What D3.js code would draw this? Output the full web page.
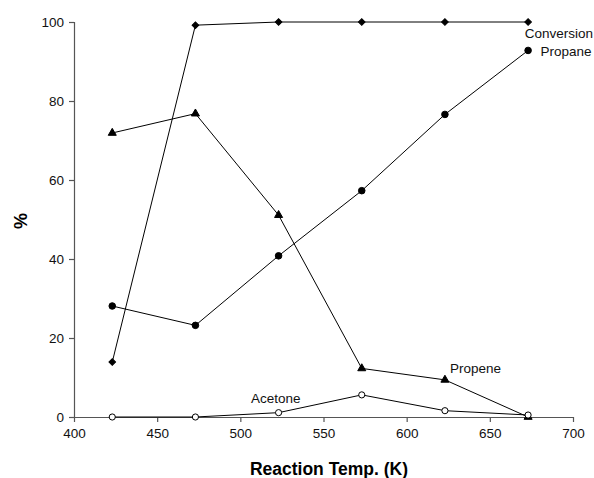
<!DOCTYPE html>
<html><head><meta charset="utf-8">
<script src="https://cdn.jsdelivr.net/npm/d3@7/dist/d3.min.js"></script>
<style>body{margin:0;background:#fff}svg{display:block}text{font-family:"Liberation Sans",Arial,sans-serif}</style>
</head><body><svg id="c" width="594" height="478"></svg>
<script>
const temps = [423, 473, 523, 573, 623, 673];
const conversion = [13.9, 99.2, 100, 100, 100, 100];
const propane = [28.1, 23.2, 40.8, 57.3, 76.6, 92.8];
const propene = [71.9, 76.8, 51.1, 12.3, 9.4, 0];
const acetone = [0, 0, 1.1, 5.6, 1.6, 0.5];
const xTicks = [400, 450, 500, 550, 600, 650, 700];
const yTicks = [0, 20, 40, 60, 80, 100];

const svg = d3.select("#c");
const x = d3.scaleLinear().domain([400, 700]).range([74, 573]);
const y = d3.scaleLinear().domain([0, 100]).range([417, 22]);

const xa = svg.append("g").attr("transform", "translate(0,417)")
  .call(d3.axisBottom(x).tickValues(xTicks).tickSizeOuter(0).tickSize(5).tickPadding(6));
const ya = svg.append("g").attr("transform", "translate(74,0)")
  .call(d3.axisLeft(y).tickValues(yTicks).tickSizeOuter(0).tickSize(5).tickPadding(5));
[xa, ya].forEach(a => {
  a.selectAll("path,line").attr("stroke", "#555").attr("stroke-width", 1.2);
  a.selectAll("text").attr("font-size", 13.5).attr("fill", "#111").attr("font-family", '"Liberation Sans",Arial,sans-serif');
});
xa.select(".domain").attr("d", "M74,0.5H573");

function series(vals, sym, size, fill, rot) {
  const pts = temps.map((t, i) => [x(t), y(vals[i])]);
  svg.append("path").attr("d", d3.line()(pts)).attr("fill", "none").attr("stroke", "#000").attr("stroke-width", 1);
  svg.append("g").selectAll("path").data(pts).join("path")
    .attr("transform", d => `translate(${d[0]},${d[1]}) rotate(${rot || 0})`)
    .attr("d", d3.symbol().type(sym).size(size))
    .attr("fill", fill).attr("stroke", "#000").attr("stroke-width", 1);
}
series(conversion, d3.symbolSquare, 22, "#000", 45);
series(propane, d3.symbolCircle, 34, "#000");
series(propene, d3.symbolTriangle, 28, "#000");
series(acetone, d3.symbolCircle, 30, "#fff");

const lab = (t, px, py, anchor) => svg.append("text").attr("x", px).attr("y", py)
  .attr("font-size", 13.5).attr("text-anchor", anchor || "start").attr("fill", "#111").text(t);
lab("Conversion", 559, 38, "middle");
lab("Propane", 566, 56, "middle");
lab("Propene", 450, 373);
lab("Acetone", 251, 403);

svg.append("text").attr("x", 329).attr("y", 475).attr("text-anchor", "middle")
  .attr("font-size", 17.5).attr("font-weight", "bold").text("Reaction Temp. (K)");
svg.append("text").attr("transform", "translate(27,221) rotate(-90)").attr("text-anchor", "middle")
  .attr("font-size", 18).attr("font-weight", "bold").text("%");
</script></body></html>
